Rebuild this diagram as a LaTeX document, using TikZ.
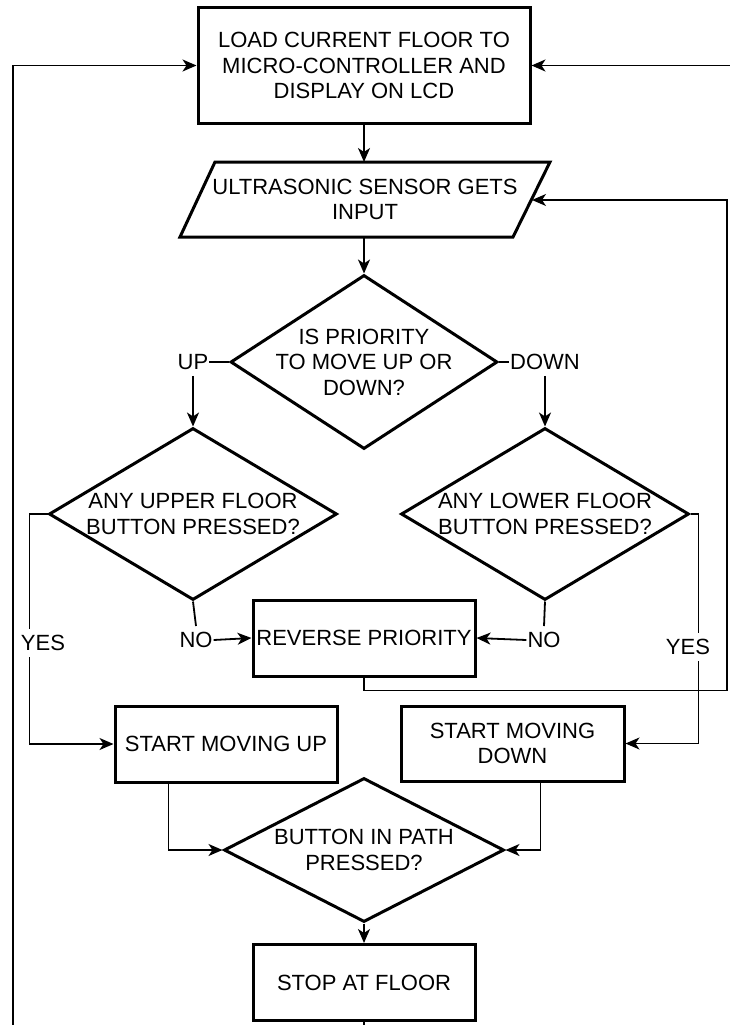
\documentclass[tikz,border=0pt]{standalone}
\usepackage{fontspec}
\setmainfont{Liberation Sans}
\usetikzlibrary{arrows.meta,shapes.geometric,calc}
\begin{document}
\begin{tikzpicture}[x=1pt,y=-1pt,
  fnt/.style={font=\fontsize{22}{25.5}\selectfont},
  box/.style={draw, line width=3pt, rectangle, inner sep=0pt, align=center, fnt},
  dia/.style={draw, line width=3pt, diamond, inner sep=0pt},
  txt/.style={align=center, inner sep=0pt, fnt},
  lbl/.style={fill=white, inner xsep=1pt, inner ysep=6pt, fnt},
  conn/.style={line width=1.8pt},
  thinconn/.style={line width=1.3pt},
  tip/.style={-{Stealth[length=14pt,width=12pt,inset=4pt]}},
  arr/.style={conn, tip},
  arrthin/.style={thinconn, tip},
]
\useasboundingbox (0,0) rectangle (730,1025);

% top box
\node[box, minimum width=332pt, minimum height=115pt] (load) at (364,65.5)
  {LOAD CURRENT FLOOR TO\\MICRO-CONTROLLER AND\\DISPLAY ON LCD};

% parallelogram
\coordinate (pTL) at (215,162);
\coordinate (pTR) at (550,162);
\coordinate (pBR) at (513,237);
\coordinate (pBL) at (180,237);
\draw[line width=3pt, line join=miter] (pTL) -- (pTR) -- (pBR) -- (pBL) -- cycle;
\node[txt] (sensor) at (365,199.5) {ULTRASONIC SENSOR GETS\\INPUT};
\coordinate (sensorTop) at (364,162);
\coordinate (sensorBot) at (364,237);
\coordinate (sensorR) at (532,200);

% priority diamond
\node[dia, minimum width=267pt, minimum height=174pt] (prio) at (364,362) {};
\node[txt] (priot) at (prio.center) {IS PRIORITY\\TO MOVE UP OR\\DOWN?};

\node[lbl, fill=none] (up) at (193,362) {UP};
\node[lbl, fill=none] (down) at (545,362) {DOWN};

% upper / lower diamonds
\node[dia, minimum width=288pt, minimum height=172pt] (upper) at (193,514) {};
\node[txt] (uppert) at (upper.center) {ANY UPPER FLOOR\\BUTTON PRESSED?};
\node[dia, minimum width=288pt, minimum height=172pt] (lower) at (545,514) {};
\node[txt] (lowert) at (lower.center) {ANY LOWER FLOOR\\BUTTON PRESSED?};

% reverse priority
\node[box, minimum width=222pt, minimum height=76pt] (rev) at (364,638) {REVERSE PRIORITY};
\node[lbl, fill=none] (noL) at (196,640) {NO};
\node[lbl, fill=none] (noR) at (544,640) {NO};

% moving boxes
\node[box, minimum width=222pt, minimum height=76pt] (mvup) at (226,744) {START MOVING UP};
\node[box, minimum width=223pt, minimum height=75pt] (mvdn) at (512.5,743.5) {START MOVING\\DOWN};

% button in path diamond
\node[dia, minimum width=280pt, minimum height=144pt] (btn) at (364,850) {};
\node[txt] (btnt) at (btn.center) {BUTTON IN PATH\\PRESSED?};

% stop
\node[box, minimum width=222pt, minimum height=76pt] (stop) at (364,982.5) {STOP AT FLOOR};

% connectors
\draw[arr] (load.south) -- (sensorTop);
\draw[arr] (sensorBot) -- (prio.north);
\draw[conn] (prio.west) -- (up.east);
\draw[conn] (prio.east) -- (down.west);
\draw[arr] (up.south) -- (upper.north);
\draw[arr] (down.south) -- (lower.north);
\draw[conn] (upper.south) -- (noL.north);
\draw[arr] (noL.east) -- (rev.west);
\draw[conn] (lower.south) -- (noR.north);
\draw[arr] (noR.west) -- (rev.east);

\draw[arrthin] (upper.west) -- ++(-18,0) |- (mvup.west);
\draw[arrthin] (lower.east) -- ++(8,0) |- (mvdn.east);
\node[lbl] (yesL) at (43,643) {YES};
\node[lbl] (yesR) at (688,647) {YES};

\coordinate (rr) at (727,200);
\draw[arrthin] (rev.south) -- ++(0,13) -| (rr) -- (sensorR);

\draw[arrthin] ($(mvup.south west)+(55,0)$) |- (btn.west);
\draw[arrthin] ($(mvdn.south west)+(141,0)$) |- (btn.east);
\draw[arr] (btn.south) -- (stop.north);

\coordinate (stub) at (364,1025);
\draw[conn] (stop.south) -- (stub);

\coordinate (lb) at (13,1025);
\draw[arr] (lb) |- (load.west);
\coordinate (rt) at (730,65.5);
\draw[arr] (rt) -- (load.east);
\end{tikzpicture}
\end{document}
